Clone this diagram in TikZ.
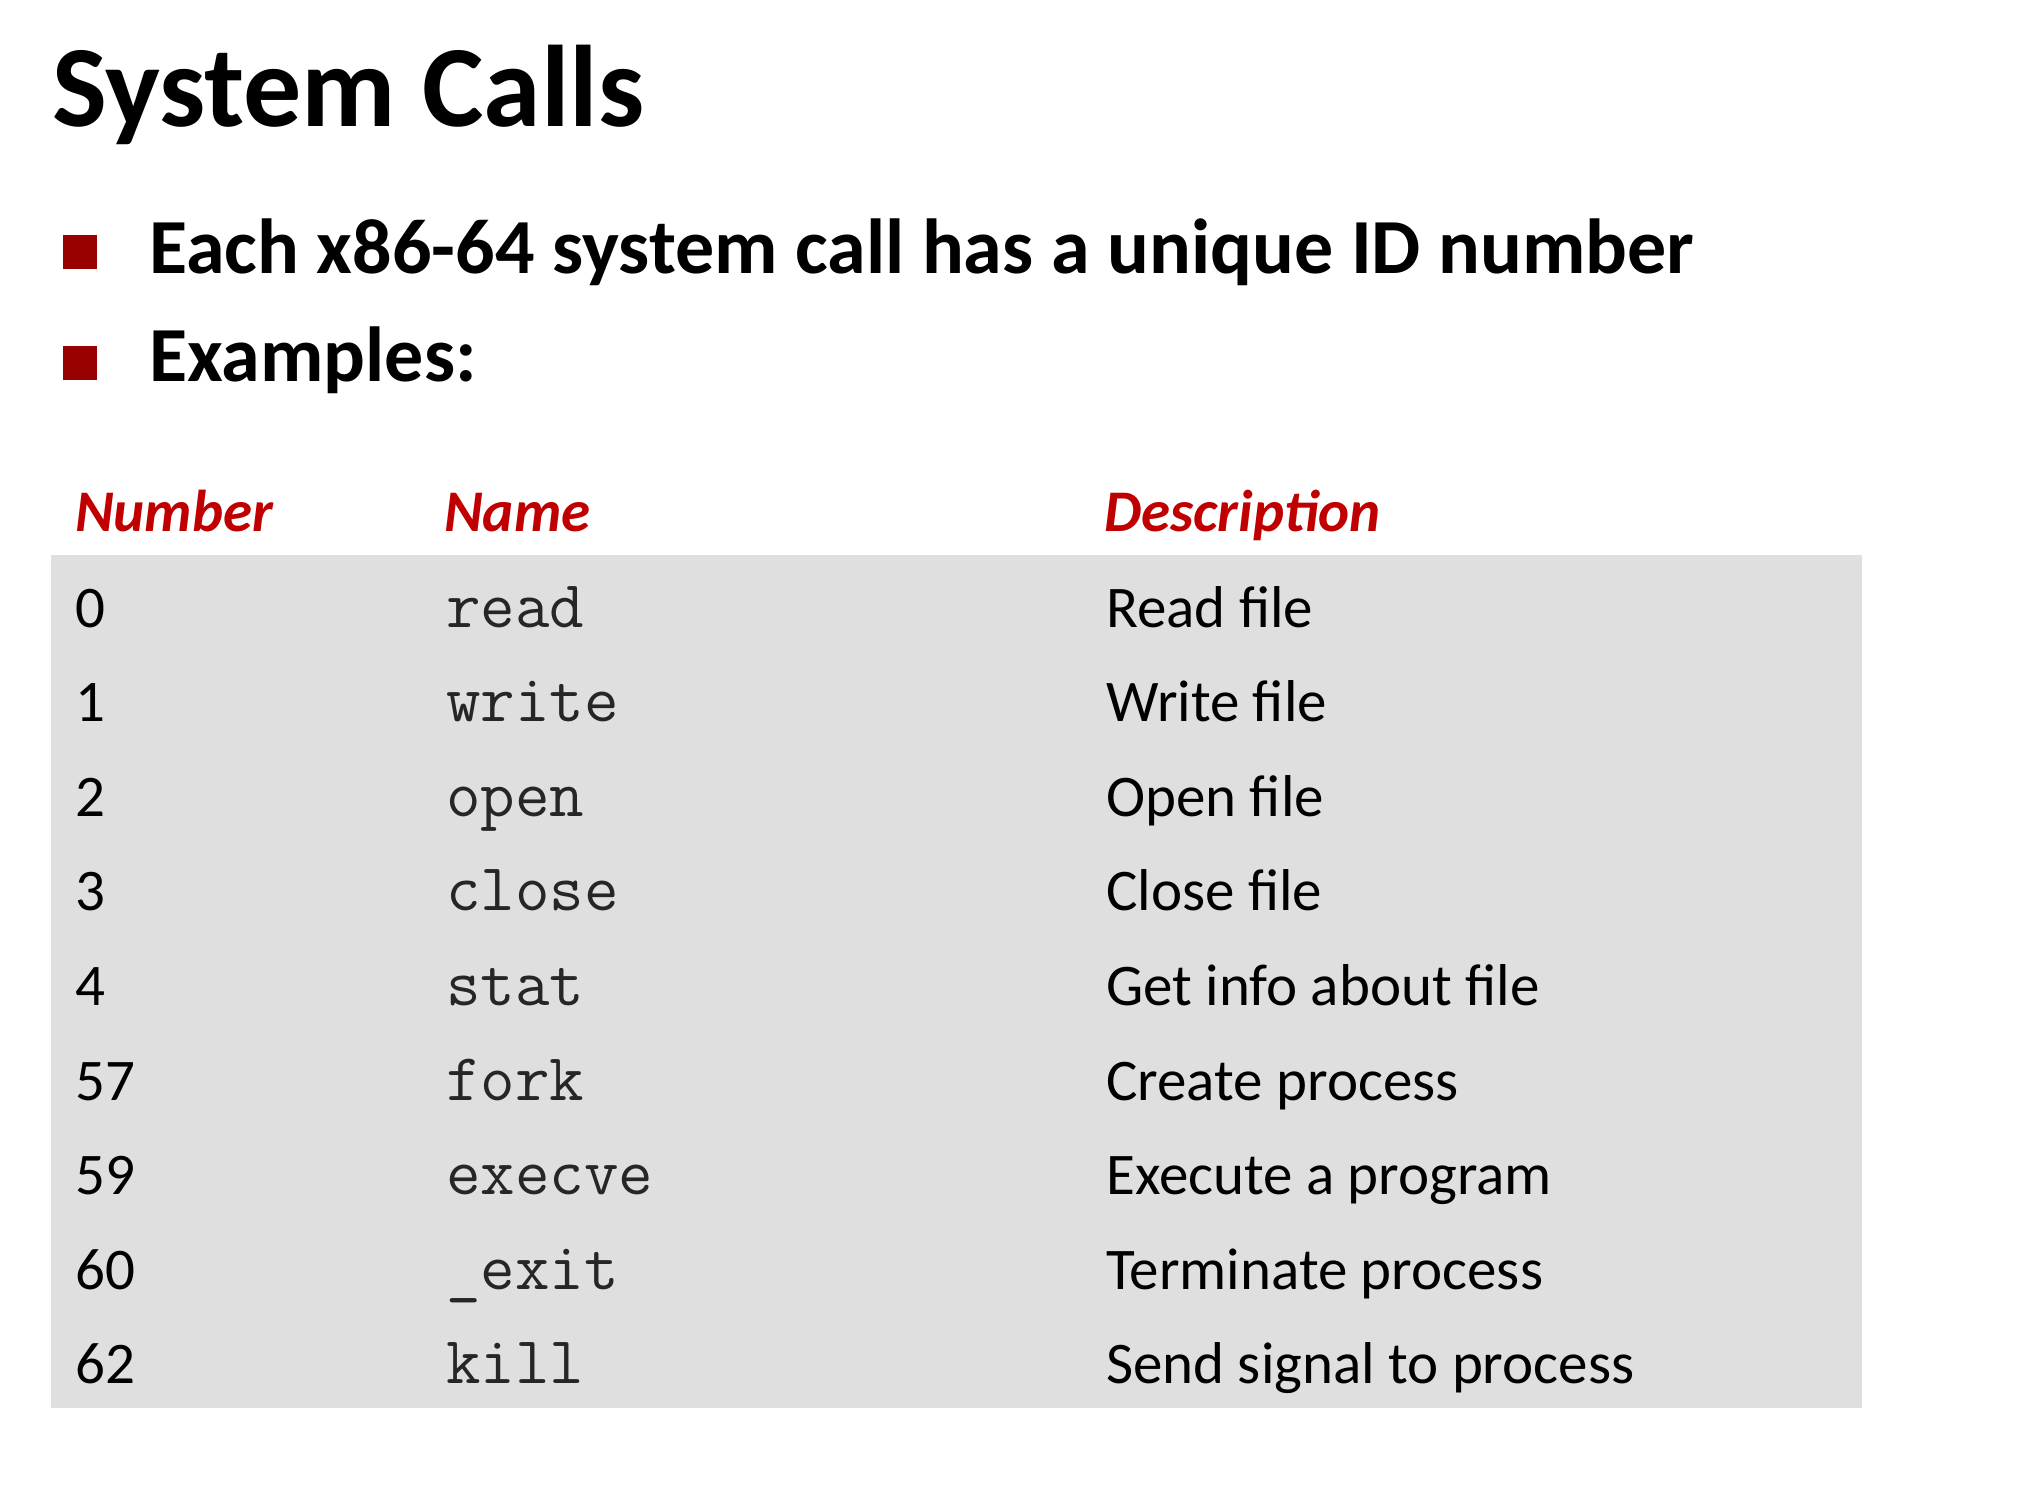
\documentclass[tikz,border=0pt]{standalone}
\usepackage{fontspec}
\setmainfont{Carlito}
\usetikzlibrary{positioning}
\definecolor{hdrred}{RGB}{192,0,0}
\definecolor{bulletred}{RGB}{153,0,0}
\definecolor{rowgray}{RGB}{223,223,223}
\tikzset{
  title/.style={anchor=base west,inner sep=0pt,font=\fontsize{116}{120}\selectfont\bfseries},
  point/.style={anchor=base west,inner sep=0pt,font=\fontsize{78}{84}\selectfont\bfseries},
  bullet/.style={fill=bulletred,minimum size=34pt,inner sep=0pt},
  header/.style={anchor=base west,inner sep=0pt,text=hdrred,font=\fontsize{59}{64}\selectfont\bfseries\itshape},
  cell/.style={anchor=base west,inner sep=0pt,font=\fontsize{59}{64}\selectfont},
  code/.style={anchor=base west,inner sep=0pt,text=black!85,font=\fontsize{67}{70}\selectfont\ttfamily}
}
\begin{document}
\begin{tikzpicture}[x=1pt,y=-1pt]
    \useasboundingbox (0,0) rectangle (2027,1490);
    \node[title] (title) at (52,127) {System Calls};

    % bullet points
    \node[bullet] (b1) at (79.5,252) {};
    \node[point] (p1) at (149,273) {Each x86-64 system call has a unique ID number};
    \node[bullet] (b2) at (79.5,362.5) {};
    \node[point] (p2) at (149,381) {Examples:};

    % table
    \fill[rowgray] (51,555) rectangle (1862,1408);
    \node[header] (hnum) at (75,531) {Number};
    \node[header] (hname) at (444,531) {Name};
    \node[header] (hdesc) at (1104,531) {Description};
    \foreach \num/\name/\desc [count=\i from 0] in {
      0/read/Read file, 1/write/Write file, 2/open/Open file,
      3/close/Close file, 4/stat/Get info about file,
      57/fork/Create process, 59/execve/Execute a program,
      60/\_exit/Terminate process, 62/kill/Send signal to process} {
      \node[cell] (num\i) at (75,627+94.6*\i) {\num};
      \node[code] (name\i) at (446,627+94.6*\i) {\name};
      \node[cell] (desc\i) at (1106,627+94.6*\i) {\desc};
    }
\end{tikzpicture}
\end{document}
